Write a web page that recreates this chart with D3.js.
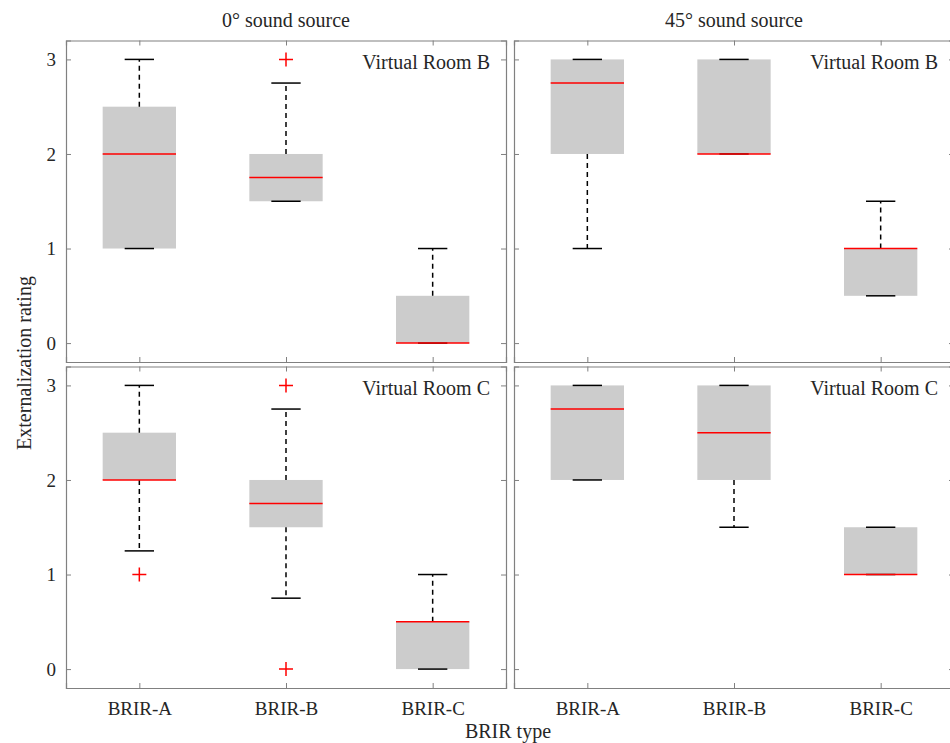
<!DOCTYPE html>
<html>
<head>
<meta charset="utf-8">
<title>BRIR box plots</title>
<script src="https://d3js.org/d3.v7.min.js"></script>
<style>
  body { margin: 0; background: white; }
  text { font-family: "Liberation Serif", "DejaVu Serif", serif; fill: #262626; }
</style>
</head>
<body>
<svg id="chart"></svg>
<script>
// data: [lowWhisker, q1, median, q3, highWhisker] per BRIR type
const categories = ["BRIR-A", "BRIR-B", "BRIR-C"];
const yTicks = [0, 1, 2, 3];
const columnTitles = ["0\u00b0 sound source", "45\u00b0 sound source"];
const roomLabels = ["Virtual Room B", "Virtual Room C"];

const room0B = [[1, 1, 2, 2.5, 3], [1.5, 1.5, 1.75, 2, 2.75], [0, 0, 0, 0.5, 1]];
const room45B = [[1, 2, 2.75, 3, 3], [2, 2, 2, 3, 3], [0.5, 0.5, 1, 1, 1.5]];
const room0C = [[1.25, 2, 2, 2.5, 3], [0.75, 1.5, 1.75, 2, 2.75], [0, 0, 0.5, 0.5, 1]];
const room45C = [[2, 2, 2.75, 3, 3], [1.5, 2, 2.5, 3, 3], [1, 1, 1, 1.5, 1.5]];

const outliers0B = [[], [3], []];
const outliers45B = [[], [], []];
const outliers0C = [[1], [0, 3], []];
const outliers45C = [[], [], []];

const width = 950, height = 743;
const svg = d3.select("#chart").attr("width", width).attr("height", height);

const panelW = 440;
const colX = [66, 514];
const rowY = [[40.5, 362], [366.5, 688]];

const panels = [
  { col: 0, row: 0, stats: room0B, out: outliers0B },
  { col: 1, row: 0, stats: room45B, out: outliers45B },
  { col: 0, row: 1, stats: room0C, out: outliers0C },
  { col: 1, row: 1, stats: room45C, out: outliers45C }
];

const axisColor = "#808080";

panels.forEach(p => {
  const x0 = colX[p.col];
  const [top, bottom] = rowY[p.row];
  const g = svg.append("g");

  const x = d3.scaleLinear().domain([0.5, 3.5]).range([x0, x0 + panelW]);
  const y = d3.scaleLinear().domain([-0.2, 3.2]).range([bottom, top]);

  const boxHalf = (x(1.25) - x(1));
  const capHalf = (x(1.1) - x(1));

  p.stats.forEach((s, i) => {
    const cx = x(i + 1);
    const [lo, q1, med, q3, hi] = s;
    // box
    g.append("rect")
      .attr("x", cx - boxHalf)
      .attr("y", y(q3))
      .attr("width", boxHalf * 2)
      .attr("height", y(q1) - y(q3))
      .attr("fill", "#cccccc");
    // whiskers
    [[q3, hi], [q1, lo]].forEach(([a, b]) => {
      if (a === b) return;
      g.append("line")
        .attr("x1", cx).attr("x2", cx)
        .attr("y1", y(a)).attr("y2", y(b))
        .attr("stroke", "black")
        .attr("stroke-width", 1.5)
        .attr("stroke-dasharray", "5,4");
    });
    // caps
    [lo, hi].forEach(v => {
      g.append("line")
        .attr("x1", cx - capHalf).attr("x2", cx + capHalf)
        .attr("y1", y(v)).attr("y2", y(v))
        .attr("stroke", "black")
        .attr("stroke-width", 1.5);
    });
    // median
    g.append("line")
      .attr("x1", cx - boxHalf).attr("x2", cx + boxHalf)
      .attr("y1", y(med)).attr("y2", y(med))
      .attr("stroke", "#ff0000")
      .attr("stroke-width", 1.5);
    // outliers
    p.out[i].forEach(v => {
      g.append("path")
        .attr("d", `M${cx - 7},${y(v)}H${cx + 7}M${cx},${y(v) - 7}V${y(v) + 7}`)
        .attr("stroke", "#ff0000")
        .attr("stroke-width", 1.5)
        .attr("fill", "none");
    });
  });

  // axes (ticks inside, box on)
  const left = d3.axisLeft(y).tickValues(yTicks).tickSize(-5).tickPadding(10)
    .tickFormat(p.col === 0 ? d3.format("d") : () => "");
  const right = d3.axisRight(y).tickValues(yTicks).tickSize(-5).tickFormat(() => "");
  const bottomAx = d3.axisBottom(x).tickValues([1, 2, 3]).tickSize(-5).tickPadding(14)
    .tickFormat(p.row === 1 ? (d => categories[d - 1]) : () => "");
  const topAx = d3.axisTop(x).tickValues([1, 2, 3]).tickSize(-5).tickFormat(() => "");

  const axes = [
    g.append("g").attr("transform", `translate(${x0},0)`).call(left),
    g.append("g").attr("transform", `translate(${x0 + panelW},0)`).call(right),
    g.append("g").attr("transform", `translate(0,${bottom})`).call(bottomAx),
    g.append("g").attr("transform", `translate(0,${top})`).call(topAx)
  ];
  axes.forEach(a => {
    a.select(".domain").attr("stroke", axisColor).attr("stroke-width", 1.2);
    a.selectAll(".tick line").attr("stroke", axisColor);
    a.selectAll(".tick text")
      .attr("font-size", 19)
      .attr("fill", "#262626");
  });

  // room label
  g.append("text")
    .attr("x", x0 + panelW - 16)
    .attr("y", top + 28)
    .attr("text-anchor", "end")
    .attr("font-size", 20)
    .text(roomLabels[p.row]);
});

// column titles
columnTitles.forEach((t, i) => {
  svg.append("text")
    .attr("x", colX[i] + panelW / 2)
    .attr("y", 27)
    .attr("text-anchor", "middle")
    .attr("font-size", 20)
    .text(t);
});

// axis titles
svg.append("text")
  .attr("transform", "translate(31,363) rotate(-90)")
  .attr("text-anchor", "middle")
  .attr("font-size", 20)
  .text("Externalization rating");

svg.append("text")
  .attr("x", 508)
  .attr("y", 738)
  .attr("text-anchor", "middle")
  .attr("font-size", 20)
  .text("BRIR type");
</script>
</body>
</html>
